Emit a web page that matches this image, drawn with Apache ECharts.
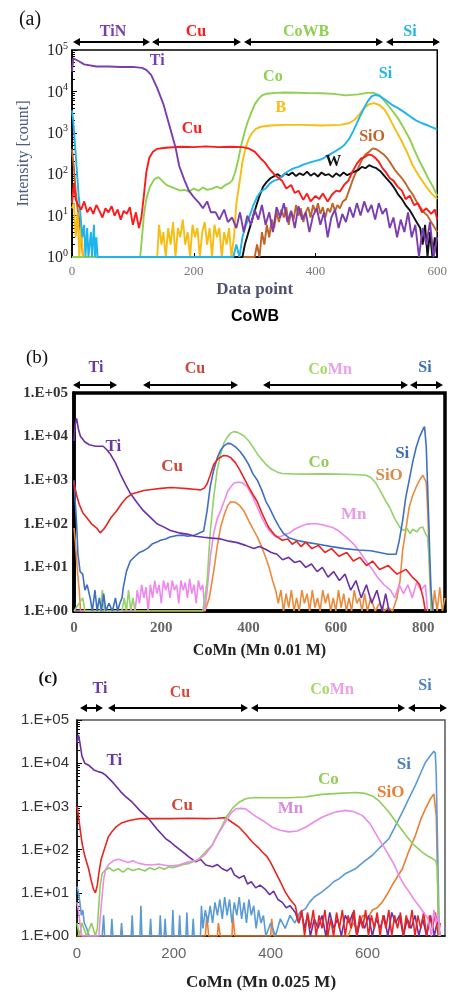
<!DOCTYPE html>
<html>
<head>
<meta charset="utf-8">
<script src="https://cdn.jsdelivr.net/npm/echarts/dist/echarts.min.js"></script>
<style>
  html, body { margin: 0; padding: 0; background: #fff; }
  #main { width: 450px; height: 993px; }
</style>
</head>
<body>
<div id="main"></div>
<script>
// ---- panel (a) CoWB : [data point, intensity]
var tiA = [[0,30000],[2,63000],[5,70000],[10,55000],[20,45000],[40,40000],[60,40000],[80,39000],[100,39000],[115,37000],[122,33000],[130,25000],[140,12000],[150,5000],[160,1500],[170,450],[176,160],[185,70],[192,40],[200,28],[209,20],[215,15],[222,22],[228,12],[236,12],[242,8],[250,14],[256,7],[263,9],[270,5],[276,12],[282,4],[288,10],[294,6],[300,14],[306,8],[312,18],[318,6],[324,12],[330,4],[336,16],[342,9],[348,20],[354,7],[360,13],[366,5],[372,17],[378,8],[384,12],[390,4],[396,10],[402,15],[408,6],[414,12],[420,3],[426,9],[432,14],[438,5],[444,11],[450,7],[456,16],[462,9],[468,20],[474,10],[480,22],[486,12],[492,18],[498,8],[504,20],[510,11],[516,15],[522,5],[528,9],[534,3],[540,8],[546,4],[552,12],[558,3],[564,6],[570,1],[576,5],[582,2],[588,7],[594,1],[600,3]];
var cuA = [[0,20],[3,60],[6,25],[10,18],[15,14],[20,22],[25,12],[30,16],[35,11],[40,18],[45,13],[50,9],[55,15],[60,12],[65,17],[70,10],[75,14],[80,8],[85,13],[90,11],[95,16],[100,6],[105,12],[110,5],[114,9],[118,30],[122,110],[127,250],[133,350],[140,410],[150,430],[160,440],[180,460],[200,450],[220,470],[240,450],[260,460],[280,450],[290,420],[300,350],[310,240],[317,190],[325,130],[335,90],[345,70],[352,45],[360,55],[366,35],[372,40],[380,24],[386,34],[392,22],[400,30],[406,25],[412,34],[420,22],[427,32],[434,40],[440,38],[447,55],[454,70],[460,110],[468,180],[475,240],[481,260],[487,300],[492,290],[498,250],[504,200],[510,140],[516,110],[522,80],[528,70],[535,50],[542,40],[548,25],[555,30],[562,18],[568,20],[575,12],[582,15],[590,11],[596,14],[600,8]];
var coA = [[0,1],[112,1],[115,3],[118,10],[122,25],[128,50],[135,75],[142,85],[148,70],[155,55],[162,50],[170,45],[178,40],[185,42],[192,38],[200,45],[208,40],[215,48],[222,42],[230,45],[238,50],[245,45],[252,55],[258,60],[263,70],[268,110],[273,220],[278,500],[284,1100],[289,1900],[295,3200],[300,4800],[306,6500],[312,8000],[320,8800],[335,9200],[350,9400],[370,9300],[390,9100],[410,9000],[430,8700],[450,8000],[470,8500],[485,9200],[495,9300],[505,8000],[515,5500],[525,3600],[535,2300],[545,1300],[555,700],[562,400],[570,220],[578,130],[586,75],[593,50],[600,30]];
var bA = [[0,15],[3,20],[6,3],[9,12],[12,1],[15,6],[18,1],[140,1],[143,6],[147,2],[150,4],[154,1],[158,5],[162,2],[166,7],[170,1],[174,5],[178,3],[182,8],[186,2],[190,4],[194,1],[198,6],[202,3],[206,5],[210,1],[214,4],[218,7],[222,2],[226,5],[230,1],[234,6],[238,3],[242,5],[246,1],[250,4],[254,2],[258,5],[262,1],[266,3],[270,20],[275,60],[280,200],[285,420],[290,700],[296,1000],[302,1250],[310,1400],[325,1500],[350,1550],[380,1550],[410,1500],[440,1550],[455,1700],[465,2100],[472,2800],[480,4000],[488,4900],[496,5200],[505,4700],[513,3700],[520,2500],[530,1300],[540,700],[550,350],[560,160],[570,90],[580,55],[590,35],[600,25]];
var siA = [[0,3500],[2,2000],[5,500],[8,120],[11,30],[14,10],[17,3],[20,6],[22,1],[25,5],[27,1],[31,4],[33,1],[36,6],[38,1],[40,3],[42,1],[265,1],[270,2],[275,1],[280,3],[286,6],[292,10],[298,18],[304,28],[310,38],[318,45],[325,60],[332,70],[339,75],[345,90],[352,110],[358,125],[365,140],[372,150],[380,170],[390,190],[400,210],[410,230],[420,280],[430,340],[440,420],[447,500],[455,700],[462,1100],[470,2000],[478,3500],[485,5500],[492,7600],[498,8200],[505,7800],[515,6200],[525,4800],[535,4000],[545,3200],[555,2500],[565,2000],[575,1700],[585,1500],[595,1300],[600,1200]];
var wA = [[0,1],[280,1],[284,2],[290,4],[296,8],[302,16],[308,30],[314,50],[320,65],[326,80],[332,90],[338,100],[344,85],[350,105],[356,95],[362,110],[368,90],[374,105],[380,95],[386,115],[392,92],[398,105],[404,88],[410,110],[416,95],[422,100],[428,85],[434,105],[440,90],[446,110],[452,95],[458,105],[464,115],[470,125],[476,150],[482,140],[488,165],[494,150],[500,140],[506,120],[512,95],[518,75],[524,60],[530,45],[536,32],[542,25],[548,18],[554,14],[560,10],[566,7],[572,5],[576,2],[580,6],[584,1],[588,4],[592,1],[596,3],[600,1]];
var sioA = [[0,400],[3,150],[6,40],[9,15],[12,8],[15,3],[18,1],[300,1],[304,2],[308,1],[312,4],[316,2],[320,6],[324,3],[328,8],[332,5],[336,12],[340,7],[344,14],[348,9],[352,16],[356,6],[360,13],[364,8],[368,18],[372,10],[376,15],[380,7],[384,12],[388,16],[392,9],[396,18],[400,12],[404,20],[408,11],[412,16],[416,9],[420,15],[424,12],[428,20],[432,13],[436,18],[440,15],[445,22],[450,25],[455,40],[460,65],[465,100],[470,140],[476,220],[482,300],[488,350],[494,420],[500,400],[506,350],[512,300],[518,240],[524,180],[530,130],[536,100],[542,80],[548,60],[554,42],[560,32],[566,22],[572,16],[578,12],[584,10],[590,7],[596,5],[600,4]];

// ---- panel (b) CoMn (Mn 0.01 M)
var tiB = [[0,8000],[3,20000],[6,26000],[10,15000],[15,10000],[25,7500],[35,6500],[50,6000],[67,6000],[75,5000],[83,4000],[95,2500],[106,1400],[118,800],[129,500],[145,300],[159,200],[175,140],[190,100],[205,85],[221,70],[240,62],[259,58],[278,52],[297,49],[316,47],[336,45],[355,40],[374,37],[393,32],[412,27],[425,30],[439,26],[452,22],[465,20],[478,15],[492,17],[505,13],[518,14],[531,10],[544,12],[557,8],[569,10],[582,6],[595,8],[608,5],[621,7],[634,3],[646,5],[658,2],[670,4],[682,1.5],[694,3],[706,1],[714,2.5],[722,1]];
var cuB = [[0,900],[2,700],[6,450],[12,280],[20,180],[29,140],[40,100],[52,80],[60,62],[68,75],[75,95],[85,140],[98,200],[110,300],[121,400],[132,480],[144,520],[160,580],[182,620],[200,650],[221,680],[240,660],[259,640],[275,620],[290,600],[298,650],[305,830],[312,1300],[320,2300],[330,3100],[343,3700],[352,3600],[359,3300],[370,2500],[380,1700],[389,1150],[400,700],[410,470],[420,320],[430,180],[440,110],[447,80],[460,55],[477,42],[490,45],[500,34],[510,40],[520,30],[531,38],[545,27],[560,32],[575,22],[590,27],[607,18],[625,22],[640,14],[655,17],[670,11],[684,14],[700,9],[720,11],[740,7],[761,9],[775,6],[784,5],[792,4],[800,2],[805,1]];
var siB = [[0,1000],[3,300],[6,100],[9,20],[14,8],[20,7],[25,3],[30,4],[37,2],[42,1],[48,3],[53,1],[58,2],[63,1],[68,2.5],[73,1],[80,1.5],[88,1],[95,2],[100,1],[105,1.5],[110,2],[113,3.5],[120,8],[129,14],[140,18],[150,22],[159,24],[170,28],[180,35],[190,38],[198,42],[210,45],[220,50],[236,54],[250,55],[260,52],[274,54],[285,60],[297,68],[305,200],[312,700],[320,1700],[328,3200],[336,4900],[345,6300],[352,7000],[359,6900],[370,5800],[380,4600],[389,3500],[400,2300],[410,1400],[420,1000],[430,600],[440,320],[447,240],[460,130],[470,85],[480,60],[492,48],[510,42],[530,38],[560,34],[590,30],[620,27],[650,25],[680,24],[700,22],[720,20],[738,20],[745,40],[753,120],[760,400],[768,1000],[776,2600],[784,5700],[792,10000],[800,15000],[803,17000],[807,6000],[810,800],[813,100],[815,20],[818,3],[822,1]];
var coB = [[0,1],[20,2],[25,1],[60,1],[65,3],[70,1],[110,1],[115,2],[120,1],[125,3],[130,1],[135,2],[140,1],[295,1],[300,2],[305,5],[310,30],[313,80],[320,400],[328,1700],[336,4000],[343,7000],[352,10000],[359,12000],[366,13000],[375,12500],[389,10500],[400,8000],[410,5800],[420,4000],[430,3000],[440,2300],[452,1800],[465,1550],[477,1420],[500,1400],[530,1380],[569,1400],[600,1380],[640,1350],[669,1300],[680,1150],[692,850],[705,500],[715,320],[723,240],[735,130],[746,85],[755,70],[762,80],[770,60],[776,75],[785,65],[792,80],[799,85],[805,60],[810,50],[815,10],[818,1]];
var mnB = [[0,1],[140,1],[145,3],[150,1.5],[155,4],[160,2],[165,3.5],[170,1],[175,4],[180,2],[185,5],[190,2.5],[195,4],[200,1.5],[205,5],[210,3],[215,4.5],[220,2],[225,5],[230,3],[235,4],[240,1.5],[245,5],[250,3],[255,4.5],[260,2],[265,5.5],[270,2.5],[275,4],[280,1.5],[285,5],[290,3],[295,4],[300,1],[305,3],[313,20],[320,60],[328,130],[336,200],[345,350],[352,550],[359,700],[366,850],[374,900],[385,880],[397,700],[408,450],[420,240],[430,140],[440,90],[450,65],[462,50],[475,52],[485,58],[492,60],[505,75],[520,88],[531,97],[545,100],[554,100],[570,95],[580,88],[592,83],[605,70],[623,50],[640,35],[653,24],[665,16],[680,10],[695,6],[710,4],[725,3],[735,2],[745,4],[755,2.5],[765,4],[775,2],[785,4.5],[795,3],[805,4],[810,1]];
var sioB = [[0,80],[3,40],[6,15],[9,6],[12,3],[15,1],[300,1],[310,2],[320,8],[328,30],[336,85],[345,170],[352,260],[359,320],[370,310],[380,260],[389,200],[400,120],[412,70],[420,50],[431,28],[440,16],[447,10],[455,5],[462,3],[468,1.5],[474,3],[480,1],[486,2.5],[492,1.2],[498,3],[504,1],[510,2],[516,1],[522,3],[528,1.5],[534,2.5],[540,1],[546,3],[552,1.2],[558,2],[564,1],[570,3],[576,1.5],[582,2.5],[588,1],[594,2],[600,1],[606,3],[612,1.2],[618,2.5],[624,1],[630,2],[636,1],[642,3],[648,1.5],[654,2],[660,1],[666,2.5],[672,1],[680,2],[690,1],[700,1.5],[710,1],[720,1.2],[730,1],[740,2],[747,5],[753,25],[760,70],[768,240],[776,450],[784,700],[792,1000],[799,1300],[803,1400],[807,900],[811,150],[815,6],[818,2],[822,1],[826,3],[832,1],[838,3.5],[844,1],[850,2]];

// ---- panel (c) CoMn (Mn 0.025 M)
var tiC = [[0,30000],[3,45000],[6,30000],[10,15000],[16,10000],[24,9000],[35,7000],[45,6300],[52,6000],[59,5300],[70,4000],[79,3100],[90,2200],[100,1700],[114,1250],[130,800],[148,520],[165,300],[183,180],[193,150],[203,120],[215,95],[231,68],[245,52],[255,60],[266,44],[280,40],[290,45],[300,36],[310,32],[318,38],[325,26],[335,22],[345,25],[352,16],[360,18],[369,13],[378,15],[389,12],[398,9],[406,11],[415,7],[424,6],[432,4.5],[440,5],[451,3.5],[458,2],[464,3.5],[470,1.5],[476,3],[482,1],[490,2.5],[498,1.5],[506,3],[514,1],[522,3.5],[530,1.5],[538,2.5],[546,1],[554,3],[562,2],[570,3.5],[578,1],[586,2.5],[594,1.5],[602,3],[610,1],[618,2.5],[626,1.5],[634,3],[642,1],[650,3.5],[658,2],[666,3],[674,1],[682,2.5],[690,1.5],[698,3],[706,1],[714,2.5],[722,1],[730,3],[738,1],[745,2.5],[750,1]];
var cuC = [[0,1000],[3,600],[6,330],[10,150],[15,80],[20,50],[24,36],[29,20],[34,12],[38,10],[42,15],[45,28],[50,60],[55,90],[59,125],[65,200],[72,260],[80,330],[93,420],[110,480],[128,520],[160,520],[197,520],[230,530],[266,520],[290,530],[307,550],[320,430],[335,330],[348,230],[362,150],[375,110],[383,87],[392,70],[400,50],[410,30],[420,18],[430,10.5],[440,7],[451,5],[458,2],[464,4],[470,1],[476,3.5],[482,1.5],[488,4],[494,1],[500,3],[506,1.5],[512,4],[518,1],[524,2.5],[530,1],[536,3.5],[542,1.5],[548,4],[554,1],[560,3],[566,1.5],[572,4],[578,1],[584,3],[590,1.5],[596,4],[602,1],[608,3],[614,1.5],[620,3.5],[626,1],[632,3],[638,1.5],[644,4],[650,1],[656,3],[662,1.5],[668,3.5],[674,1],[680,3],[686,1.5],[692,4],[698,1],[704,3],[710,1.5],[716,3.5],[722,1],[728,3],[734,1.5],[740,3.5],[746,1],[750,2]];
var coC = [[0,2],[5,1],[10,2],[20,1],[30,2],[38,1],[42,1.5],[45,5],[48,15],[52,28],[58,33],[66,38],[75,32],[85,36],[95,30],[105,37],[115,33],[128,36],[140,32],[150,38],[160,34],[170,39],[180,35],[190,40],[197,38],[210,42],[220,45],[232,48],[245,55],[252,62],[262,80],[270,100],[279,125],[290,220],[300,360],[310,600],[321,900],[335,1250],[348,1500],[366,1600],[390,1580],[437,1580],[470,1650],[506,1900],[540,2000],[575,2100],[595,2000],[610,1750],[625,1300],[644,740],[660,420],[679,215],[695,130],[713,87],[725,70],[734,62],[741,55],[744,40],[746,5],[748,1]];
var mnC = [[0,6],[3,4],[6,2],[10,1],[45,1],[50,5],[55,20],[59,35],[65,45],[75,55],[86,60],[95,55],[105,50],[115,55],[128,48],[140,45],[155,44],[170,46],[185,43],[197,42],[210,44],[231,52],[245,56],[252,60],[265,78],[279,125],[290,220],[300,330],[307,440],[318,700],[328,880],[338,900],[348,880],[366,620],[385,460],[403,330],[420,280],[437,257],[455,270],[472,330],[490,440],[506,560],[530,720],[554,810],[570,760],[589,620],[605,400],[623,180],[635,110],[644,74],[655,45],[665,25],[676,15],[686,10.5],[696,7],[706,5],[716,3.5],[725,2.5],[732,1],[737,4],[742,2],[746,3],[750,1]];
var siC = [[0,14],[3,10],[6,6],[9,3],[12,4],[15,2],[20,1.5],[25,1],[52,1],[55,3],[57,1],[70,1],[72,2.5],[74,1],[90,1],[92,2],[94,1],[112,1],[114,3],[116,1],[130,1],[132,5],[134,1],[150,1],[152,2.5],[154,1],[170,1],[172,3],[174,1],[180,1],[182,2.5],[184,1],[196,1],[198,4],[200,1],[210,1],[212,3],[214,1],[225,1],[227,3.5],[229,1],[238,1],[240,2.5],[242,1],[255,1],[257,5],[260,1.5],[265,4],[270,2],[275,5],[280,2],[285,6],[290,3],[295,7],[300,2.5],[305,8],[310,3],[315,7],[320,2],[325,6],[330,3],[335,8],[340,2.5],[345,6],[350,2],[355,7],[360,3],[365,5],[370,1.5],[375,4],[380,2],[385,3],[390,1],[400,2],[410,1],[420,2.5],[430,1.5],[440,3],[450,2],[460,3.5],[472,4.3],[480,6],[490,8],[506,10.5],[520,14],[530,18],[541,21],[555,28],[575,36],[590,50],[610,74],[625,110],[644,178],[660,400],[672,740],[685,1500],[699,3100],[710,6000],[720,10700],[730,15000],[737,19000],[740,17000],[742,5000],[744,300],[746,20],[748,1]];
var sioC = [[0,1],[265,1],[268,3],[272,1],[290,1],[292,2],[296,1],[320,1],[322,3],[326,1],[400,1],[402,2.5],[406,1],[560,1],[570,2],[580,1.5],[590,3],[600,2.5],[610,4],[620,4.5],[630,6],[640,9],[651,15],[660,22],[672,36],[685,90],[699,215],[710,500],[720,900],[730,1500],[737,1950],[740,1800],[742,600],[744,50],[746,3],[748,1]];

var xMax = [600, 850, 760];
var xTitles = ['Data point', 'CoMn (Mn 0.01 M)', 'CoMn (Mn 0.025 M)'];

var SERIF = "'Liberation Serif','DejaVu Serif',serif";
var SANS = "'Liberation Sans',Arial,sans-serif";

var chart = echarts.init(document.getElementById('main'), null, {renderer: 'canvas'});

function line(data, gi, color, width, tag, z) {
  var s = {
    type: 'line', xAxisIndex: gi, yAxisIndex: gi, data: data,
    showSymbol: false, symbol: 'none', silent: true, z: z || 2,
    lineStyle: {color: color, width: width}, itemStyle: {color: color}
  };
  if (tag) {
    s.markPoint = {
      symbol: 'circle', symbolSize: 1, silent: true, animation: false,
      itemStyle: {color: 'transparent'},
      label: {show: true, position: 'inside', formatter: tag[0], color: tag[3] || color,
        fontFamily: SERIF, fontWeight: 'bold', fontSize: tag[4] || 16},
      data: [{coord: [tag[1], tag[2]]}]
    };
  }
  return s;
}

// in-plot labels [text, x, y, colour]
var series = [
  line(sioA, 0, '#c0652a', 1.9, ['SiO', 493, 800]),
  line(wA, 0, '#111111', 1.9, ['W', 429, 195]),
  line(bA, 0, '#f7bd12', 1.9, ['B', 343, 4000]),
  line(coA, 0, '#8dd14f', 1.9, ['Co', 330, 22000]),
  line(siA, 0, '#1fb4ec', 1.9, ['Si', 515, 26000]),
  line(cuA, 0, '#ff1a1a', 1.9, ['Cu', 197, 1250]),
  line(tiA, 0, '#7b3db0', 1.9, ['Ti', 140, 54000]),

  line(sioB, 1, '#ec8a3c', 1.6, ['SiO', 722, 1250, '#d98b4a', 17]),
  line(mnB, 1, '#ee88ee', 1.6, ['Mn', 641, 160, '#e59be6', 17]),
  line(coB, 1, '#93d16a', 1.6, ['Co', 561, 2500, '#8fce5a', 17]),
  line(siB, 1, '#3f6fc4', 1.6, ['Si', 752, 4000, '#3b6fb6', 17]),
  line(tiB, 1, '#6b30a8', 1.6, ['Ti', 90, 5800, '#6b3aa0', 17]),
  line(cuB, 1, '#e8251f', 1.6, ['Cu', 225, 2000, '#c9483c', 17]),

  line(sioC, 2, '#ed7d31', 1.6, ['SiO', 648, 2050, '#ed7d31', 17]),
  line(siC, 2, '#5b9bd5', 1.6, ['Si', 675, 9100, '#4a7fc0', 17]),
  line(tiC, 2, '#6a2fa5', 1.6, ['Ti', 77, 11700, '#6b3aa0', 17]),
  line(cuC, 2, '#e8251f', 1.6, ['Cu', 217, 1070, '#cf4a3a', 17]),
  line(coC, 2, '#8fce5a', 1.6, ['Co', 519, 4100, '#8fce5a', 17]),
  line(mnC, 2, '#ea8ce8', 1.6, ['Mn', 441, 910, '#d98ad8', 17])
];

var grids = [
  {left: 72, right: 10, top: 50, height: 207, show: true, borderColor: '#000', borderWidth: 1.5},
  {left: 74, right: 5, top: 393, height: 218, show: true, borderColor: '#000', borderWidth: 3.5},
  {left: 77, right: 5, top: 720, height: 216, show: true, borderColor: '#555', borderWidth: 1.5}
];

var xAxes = [0, 1, 2].map(function (i) {
  return {
    gridIndex: i, type: 'value', min: 0, max: xMax[i], interval: 200,
    axisLine: {show: true, onZero: false, lineStyle: {color: '#000', width: i === 1 ? 3.5 : 1.5}},
    axisTick: {show: i === 0, inside: true, length: 4, lineStyle: {color: '#000'}},
    splitLine: {show: false},
    axisLabel: {
      color: i === 0 ? '#777' : '#666', fontFamily: i === 2 ? SANS : SERIF,
      fontSize: i === 0 ? 13 : 15, fontWeight: i === 1 ? 'bold' : 'normal', margin: i === 0 ? 8 : 10,
      showMaxLabel: i === 0
    },
    name: xTitles[i], nameLocation: 'middle', nameGap: [24, 32, 38][i],
    nameTextStyle: {fontFamily: SERIF, fontWeight: 'bold', fontSize: [17, 16, 17][i], color: i === 0 ? '#4c5270' : '#222'}
  };
});

var yAxes = [0, 1, 2].map(function (i) {
  var ax = {
    gridIndex: i, type: 'log', logBase: 10, min: 1, max: 100000,
    axisLine: {show: true, lineStyle: {color: '#000', width: i === 1 ? 3.5 : 1.5}},
    axisTick: {show: i !== 1, inside: true, length: 5, lineStyle: {color: '#000'}},
    minorTick: {show: i !== 1, length: 3, splitNumber: 9, lineStyle: {color: '#000'}},
    splitLine: {show: false}
  };
  if (i === 0) {
    ax.axisLabel = {
      margin: 4,
      formatter: function (v) { return '{b|10}{s|' + Math.round(Math.log10(v)) + '}'; },
      rich: {
        b: {fontFamily: SERIF, fontSize: 16, color: '#222', verticalAlign: 'bottom'},
        s: {fontFamily: SERIF, fontSize: 10, color: '#222', verticalAlign: 'bottom', padding: [0, 0, 8, 0]}
      }
    };
    ax.name = 'Intensity [count]';
    ax.nameLocation = 'middle';
    ax.nameGap = 40;
    ax.nameRotate = 90;
    ax.nameTextStyle = {fontFamily: SERIF, fontSize: 16, color: '#4a5a80'};
  } else {
    ax.axisLabel = {
      margin: i === 1 ? 6 : 8, color: '#333',
      fontFamily: i === 1 ? SERIF : SANS, fontWeight: i === 1 ? 'bold' : 'normal', fontSize: 15,
      formatter: function (v) { return '1.E+0' + Math.round(Math.log10(v)); }
    };
  }
  return ax;
});

// double-headed arrows above each panel: [x1, x2, y]
var arrows = [
  [73, 150, 42], [152, 241, 42], [244, 383, 42], [386, 440, 42],
  [73, 117, 385], [143, 238, 385], [263, 408, 385], [410, 443, 385],
  [80, 103, 708], [108, 248, 708], [251, 405, 708], [408, 447, 708]
];
// region names: [text or rich, x, y, colour]
var regionTags = [
  ['TiN', 113, 32, '#7b3db0'], ['Cu', 196, 32, '#ff1a1a'], ['CoWB', 306, 32, '#8dd14f'], ['Si', 410, 32, '#1fb4ec'],
  ['Ti', 96, 368, '#6b3aa0'], ['Cu', 195, 369, '#c9483c'], ['{g|Co}{p|Mn}', 330, 370, null], ['Si', 425, 368, '#3b6fb6'],
  ['Ti', 100, 689, '#6b3aa0'], ['Cu', 180, 693, '#cf4a3a'], ['{g|Co}{p|Mn}', 332, 690, null], ['Si', 425, 686, '#4a7fc0']
];

var graphic = [];
arrows.forEach(function (a) {
  var h = 7, w = 4;
  graphic.push({type: 'line', silent: true, shape: {x1: a[0] + 2, y1: a[2], x2: a[1] - 2, y2: a[2]},
    style: {stroke: '#000', lineWidth: 2}});
  graphic.push({type: 'polygon', silent: true, shape: {points: [[a[0], a[2]], [a[0] + h, a[2] - w], [a[0] + h, a[2] + w]]},
    style: {fill: '#000'}});
  graphic.push({type: 'polygon', silent: true, shape: {points: [[a[1], a[2]], [a[1] - h, a[2] - w], [a[1] - h, a[2] + w]]},
    style: {fill: '#000'}});
});
regionTags.forEach(function (t) {
  graphic.push({
    type: 'text', silent: true, x: t[1], y: t[2],
    style: {
      text: t[0], fill: t[3] || '#000', font: 'bold 16px ' + SERIF, align: 'center', verticalAlign: 'middle',
      rich: {
        g: {fill: '#a6d96a', fontFamily: SERIF, fontWeight: 'bold', fontSize: 16},
        p: {fill: '#eaa0ea', fontFamily: SERIF, fontWeight: 'bold', fontSize: 16}
      }
    }
  });
});
graphic.push({type: 'text', silent: true, x: 30, y: 20, style: {text: '(a)', fill: '#111', font: '20px ' + SERIF, align: 'center', verticalAlign: 'middle'}});
graphic.push({type: 'text', silent: true, x: 37, y: 358, style: {text: '(b)', fill: '#111', font: '19px ' + SERIF, align: 'center', verticalAlign: 'middle'}});
graphic.push({type: 'text', silent: true, x: 48, y: 679, style: {text: '(c)', fill: '#111', font: 'bold 17px ' + SERIF, align: 'center', verticalAlign: 'middle'}});
graphic.push({type: 'text', silent: true, x: 255, y: 317, style: {text: 'CoWB', fill: '#000', font: 'bold 16px ' + SANS, align: 'center', verticalAlign: 'middle'}});

chart.setOption({
  animation: false,
  backgroundColor: '#fff',
  grid: grids,
  xAxis: xAxes,
  yAxis: yAxes,
  series: series,
  graphic: graphic
});
</script>
</body>
</html>
